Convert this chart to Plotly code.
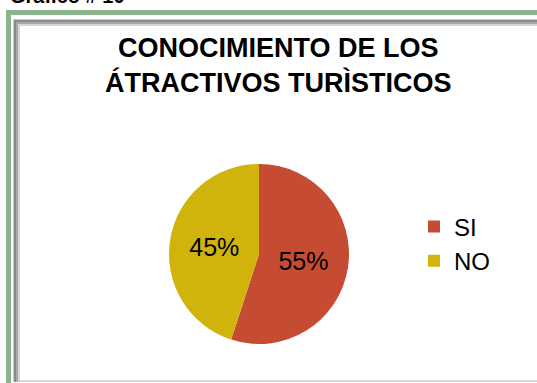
import plotly.graph_objects as go

labels = ["SI", "NO"]
values = [55, 45]
colors = ["#C64B33", "#D0B40B"]

title_text = "CONOCIMIENTO DE LOS<br>ÁTRACTIVOS TURÌSTICOS"
caption_text = "Gráfico # 10"

W, H = 537, 383

def px(x):
    return x / W

def py(y):
    return 1 - y / H

fig = go.Figure()
fig.add_trace(go.Pie(
    labels=labels,
    values=values,
    sort=False,
    direction="clockwise",
    rotation=0,
    marker=dict(colors=colors, line=dict(width=0)),
    textinfo="percent",
    textposition="inside",
    insidetextorientation="horizontal",
    textfont=dict(family="Liberation Sans, Arial", size=25, color="#000000"),
    domain=dict(x=[px(169), px(349)], y=[py(344), py(164)]),
    hoverinfo="label+percent",
))

shapes = []
# green outer frame
shapes.append(dict(type="rect", xref="paper", yref="paper",
                   x0=px(8.5), x1=px(560), y0=py(420), y1=py(12.5),
                   line=dict(color="#8CB48C", width=5), fillcolor="rgba(0,0,0,0)"))
# inner gray bevel frame
for off, col, w in [(13.5, "#C8C8C8", 1), (15.0, "#8A8A8A", 2), (17.0, "#A8A8A8", 2), (19.0, "#D6D6D6", 2)]:
    shapes.append(dict(type="rect", xref="paper", yref="paper",
                       x0=px(off), x1=px(600), y0=py(381), y1=py(off + 6),
                       line=dict(color=col, width=w), fillcolor="rgba(0,0,0,0)"))

fig.update_layout(
    width=W, height=H,
    margin=dict(l=0, r=0, t=0, b=0),
    paper_bgcolor="#FFFFFF",
    plot_bgcolor="#FFFFFF",
    shapes=shapes,
    showlegend=True,
    legend=dict(
        x=px(414), y=py(244), xanchor="left", yanchor="middle",
        font=dict(family="Liberation Sans, Arial", size=24, color="#000000"),
        bgcolor="rgba(0,0,0,0)",
        itemwidth=30,
    ),
    annotations=[
        dict(text=title_text, x=px(278), y=py(66), xref="paper", yref="paper",
             xanchor="center", yanchor="middle", showarrow=False,
             font=dict(family="Liberation Sans, Arial", size=27, color="#000000", weight="bold")),
        dict(text=caption_text, x=px(8), y=py(-4), xref="paper", yref="paper",
             xanchor="left", yanchor="middle", showarrow=False,
             font=dict(family="Liberation Sans, Arial", size=20, color="#000000", weight="bold")),
    ],
)

fig.write_html("out.html")
